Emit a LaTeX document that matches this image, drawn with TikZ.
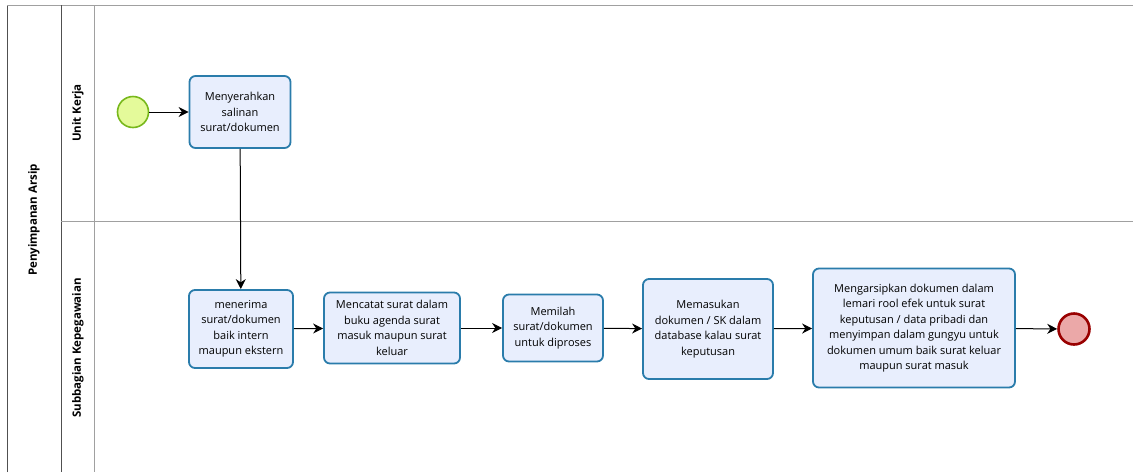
\documentclass[tikz,border=0pt]{standalone}
\usepackage{fontspec}
\setmainfont{Open Sans}
\usepackage{tikz}
\usetikzlibrary{arrows.meta, positioning}
\definecolor{taskFill}{HTML}{E8EEFD}
\definecolor{taskLine}{HTML}{2A7CAB}
\definecolor{startFill}{HTML}{E4FA9A}
\definecolor{startLine}{HTML}{78B81C}
\definecolor{endFill}{HTML}{EBA8A8}
\definecolor{endLine}{HTML}{990000}
\definecolor{laneGray}{HTML}{A0A0A0}
\definecolor{poolDark}{HTML}{505050}

\begin{document}
\begin{tikzpicture}[
    x=1pt, y=-1pt,
    task/.style={draw=taskLine, fill=taskFill, line width=1.8pt,
                 rounded corners=6pt, font=\fontsize{11}{15.5}\selectfont,
                 align=center, inner sep=2pt},
    startev/.style={circle, draw=startLine, fill=startFill,
                    line width=1.6pt, minimum size=31pt, inner sep=0pt},
    endev/.style={circle, draw=endLine, fill=endFill,
                  line width=2.6pt, minimum size=31pt, inner sep=0pt},
    lanetitle/.style={rotate=90, font=\fontsize{11.5}{14}\selectfont\bfseries},
    arrow/.style={-{Stealth[length=10pt, width=10pt]}, line width=1pt},
]
\useasboundingbox (0,0) rectangle (1133,472);

% pool and lanes
\draw[poolDark, line width=0.9pt] (7,472) -- (7,5);
\draw[laneGray, line width=0.9pt] (7,5) -- (1133,5);
\draw[poolDark, line width=0.9pt] (61,5) -- (61,472);
\draw[laneGray, line width=0.9pt] (94,5) -- (94,472);
\draw[laneGray, line width=0.9pt] (61,221) -- (1133,221);
\node[lanetitle] (pool) at (34,220) {Penyimpanan Arsip};
\node[lanetitle] (lane1) at (78,113) {Unit Kerja};
\node[lanetitle] (lane2) at (78,348) {Subbagian Kepegawaian};

% events and tasks
\node[startev] (start) at (133,112) {};
\node[task, minimum width=101pt, minimum height=72pt] (t1) at (240,112)
    {Menyerahkan\\salinan\\surat/dokumen};
\node[task, minimum width=104pt, minimum height=78pt] (t2) at (241,329)
    {menerima\\surat/dokumen\\baik intern\\maupun ekstern};
\node[task, minimum width=136pt, minimum height=71pt] (t3) at (392,328)
    {Mencatat surat dalam\\buku agenda surat\\masuk maupun surat\\keluar};
\node[task, minimum width=100pt, minimum height=67pt] (t4) at (553,328)
    {Memilah\\surat/dokumen\\untuk diproses};
\node[task, minimum width=130pt, minimum height=100pt] (t5) at (708,329)
    {Memasukan\\dokumen / SK dalam\\database kalau surat\\keputusan};
\node[task, minimum width=202pt, minimum height=119pt] (t6) at (914,328)
    {Mengarsipkan dokumen dalam\\lemari rool efek untuk surat\\keputusan / data pribadi dan\\menyimpan dalam  gungyu untuk\\dokumen umum baik surat keluar\\maupun surat masuk};
\node[endev] (end) at (1074,329) {};

\draw[arrow] (start) -- (t1);
\draw[arrow] (t1) -- (t2);
\draw[arrow] (t2) -- (t3);
\draw[arrow] (t3) -- (t4);
\draw[arrow] (t4) -- (t5);
\draw[arrow] (t5) -- (t6);
\draw[arrow] (t6) -- (end);
\end{tikzpicture}
\end{document}
